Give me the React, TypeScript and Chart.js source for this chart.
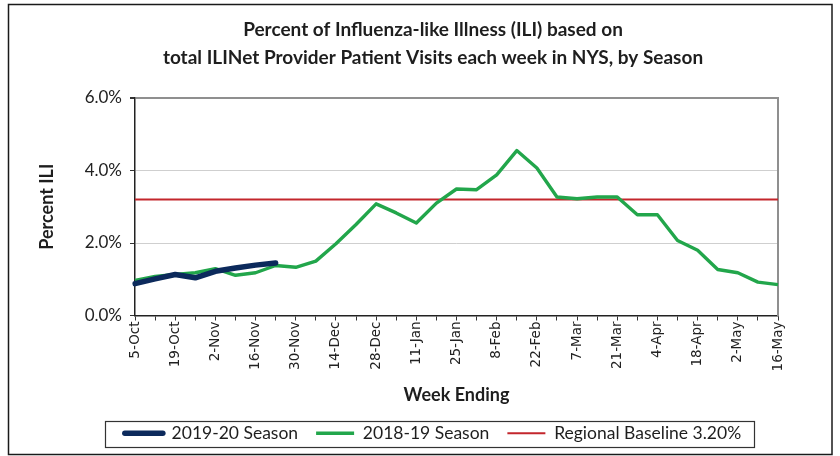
import React, { useEffect, useRef } from "react";
import { Chart, registerables } from "chart.js";

Chart.register(...registerables);

const weeks = [
  "5-Oct", "12-Oct", "19-Oct", "26-Oct", "2-Nov", "9-Nov", "16-Nov", "23-Nov",
  "30-Nov", "7-Dec", "14-Dec", "21-Dec", "28-Dec", "4-Jan", "11-Jan", "18-Jan",
  "25-Jan", "1-Feb", "8-Feb", "15-Feb", "22-Feb", "29-Feb", "7-Mar", "14-Mar",
  "21-Mar", "28-Mar", "4-Apr", "11-Apr", "18-Apr", "25-Apr", "2-May", "9-May", "16-May",
];

const season1920 = [0.88, 1.01, 1.13, 1.04, 1.22, 1.31, 1.39, 1.45];

const season1819 = [
  0.97, 1.08, 1.13, 1.18, 1.29, 1.11, 1.18, 1.38, 1.33, 1.5, 1.98, 2.51, 3.08,
  2.83, 2.55, 3.1, 3.49, 3.47, 3.88, 4.55, 4.07, 3.27, 3.22, 3.27, 3.27, 2.78,
  2.78, 2.07, 1.8, 1.27, 1.18, 0.92, 0.85,
];

const baselineValue = 3.2;
const baseline = weeks.map(() => baselineValue);

const titleLines = [
  "Percent of Influenza-like Illness (ILI) based on",
  "total ILINet Provider Patient Visits each week in NYS, by Season",
];

const seriesLabels = ["2019-20 Season", "2018-19 Season", "Regional Baseline 3.20%"];
const seriesColors = ["#0c2a5c", "#22a64b", "#c3262c"];
const seriesWidths = [5.5, 3.4, 2];

const framePlugin = {
  id: "frames",
  afterDraw(chart: any) {
    const ctx = chart.ctx;
    ctx.save();
    ctx.strokeStyle = "#1a1a1a";
    ctx.lineWidth = 1.5;
    ctx.strokeRect(8.5, 4.5, chart.width - 16.5, chart.height - 6);
    const boxes = chart.legend && chart.legend.legendHitBoxes;
    if (boxes && boxes.length) {
      const first = boxes[0];
      const last = boxes[boxes.length - 1];
      const l = Math.round(first.left - 20) + 0.5;
      const r = Math.round(last.left + last.width + 13) + 0.5;
      const t = Math.round(first.top - 4) + 0.5;
      const b = Math.round(first.top + first.height + 5) + 0.5;
      ctx.strokeStyle = "#333";
      ctx.lineWidth = 1.2;
      ctx.strokeRect(l, t, r - l, b - t);
    }
    ctx.restore();
  },
};

export default function App() {
  const ref = useRef<HTMLCanvasElement | null>(null);

  useEffect(() => {
    if (!ref.current) return;
    const chart = new Chart(ref.current, {
      type: "line",
      data: {
        labels: weeks,
        datasets: [
          {
            label: seriesLabels[0],
            data: season1920,
            borderColor: seriesColors[0],
            backgroundColor: seriesColors[0],
            borderWidth: seriesWidths[0],
            borderCapStyle: "round",
            borderJoinStyle: "round",
            pointRadius: 0,
            tension: 0,
          },
          {
            label: seriesLabels[1],
            data: season1819,
            borderColor: seriesColors[1],
            backgroundColor: seriesColors[1],
            borderWidth: seriesWidths[1],
            borderJoinStyle: "round",
            pointRadius: 0,
            tension: 0,
          },
          {
            label: seriesLabels[2],
            data: baseline,
            borderColor: seriesColors[2],
            backgroundColor: seriesColors[2],
            borderWidth: seriesWidths[2],
            pointRadius: 0,
            tension: 0,
          },
        ],
      },
      options: {
        responsive: false,
        animation: false,
        layout: { padding: { left: 26, right: 0, top: 0, bottom: 4 } },
        plugins: {
          title: {
            display: true,
            text: titleLines,
            color: "#1e1e1e",
            font: { family: "Lato", size: 19, weight: "bold", lineHeight: "28px" },
            padding: { top: 16, bottom: 26 },
          },
          legend: {
            display: true,
            position: "bottom",
            labels: {
              font: { family: "Lato", size: 17.5 },
              color: "#1e1e1e",
              usePointStyle: true,
              pointStyleWidth: 38,
              padding: 18,
              generateLabels: (c: any) =>
                c.data.datasets.map((ds: any, i: number) => ({
                  text: ds.label,
                  fillStyle: ds.borderColor,
                  strokeStyle: ds.borderColor,
                  lineWidth: ds.borderWidth,
                  lineCap: i === 0 ? "round" : "butt",
                  pointStyle: "line",
                  hidden: false,
                  datasetIndex: i,
                  fontColor: "#1e1e1e",
                })),
            },
          },
          tooltip: { enabled: false },
        },
        scales: {
          x: {
            type: "category",
            offset: false,
            afterFit: (s: any) => {
              s.height = 91;
            },
            grid: {
              display: true,
              drawOnChartArea: false,
              drawTicks: true,
              tickLength: 5,
              tickColor: "#333",
              color: "#333",
            },
            border: { display: true, color: "#222", width: 1.5 },
            ticks: {
              autoSkip: false,
              maxRotation: 90,
              minRotation: 90,
              padding: 1,
              color: "#222",
              font: { family: "DejaVu Sans", size: 13.5 },
              callback: (_v: any, i: number) => (i % 2 === 0 ? weeks[i] : ""),
            },
            title: {
              display: true,
              text: "Week Ending",
              color: "#1e1e1e",
              font: { family: "Lato", size: 18, weight: "bold" },
              padding: { top: 0, bottom: 1 },
            },
          },
          y: {
            min: 0,
            max: 6,
            afterFit: (s: any) => {
              s.width = 109;
            },
            ticks: {
              stepSize: 2,
              padding: 8,
              color: "#222",
              font: { family: "Lato", size: 17 },
              callback: (v: any) => Number(v).toFixed(1) + "%",
            },
            grid: {
              drawTicks: true,
              tickLength: 5,
              tickColor: "#333",
              color: (c: any) =>
                c.tick && c.tick.value === 0
                  ? "rgba(0,0,0,0)"
                  : c.tick && c.tick.value === 6
                  ? "#8f8f8f"
                  : "#cfcfcf",
              lineWidth: (c: any) => (c.tick && c.tick.value === 6 ? 2 : 1),
            },
            border: { display: true, color: "#222", width: 1.5 },
            title: {
              display: true,
              text: "Percent ILI",
              color: "#1e1e1e",
              font: { family: "Lato", size: 18, weight: "bold" },
              padding: { top: 10, bottom: 0 },
            },
          },
          y2: {
            position: "right",
            min: 0,
            max: 6,
            afterFit: (s: any) => {
              s.width = 62;
            },
            ticks: { display: false },
            grid: { display: false, drawTicks: false },
            border: { display: true, color: "#8f8f8f", width: 2 },
          },
        },
      },
      plugins: [framePlugin],
    } as any);
    return () => chart.destroy();
  }, []);

  return (
    <div style={{ position: "absolute", left: 0, top: 0, width: 840, height: 456, background: "#fff" }}>
      <canvas ref={ref} width={840} height={456} style={{ display: "block" }} />
    </div>
  );
}
